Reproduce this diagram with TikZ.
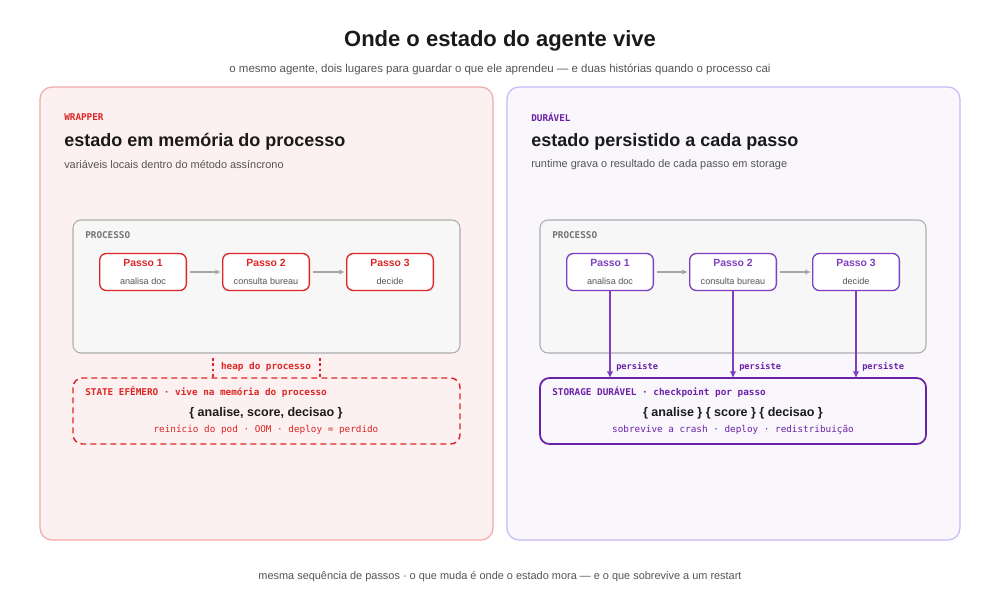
\documentclass[tikz,border=0pt]{standalone}
\usepackage{fontspec}
\usetikzlibrary{arrows.meta}
\setmainfont{Liberation Sans}
\newfontfamily\monof{DejaVu Sans Mono}
\definecolor{rd}{HTML}{DC2626}
\definecolor{pu}{HTML}{6B21A8}
\definecolor{pufr}{HTML}{7E3FC0}
\definecolor{pub}{HTML}{C8B8F8}
\definecolor{txt}{HTML}{1A1A1A}
\definecolor{gr}{HTML}{555555}
\begin{document}
\begin{tikzpicture}[x=0.75pt,y=-0.75pt,
  panel/.style={rounded corners=9pt,line width=0.9pt},
  proc/.style={rounded corners=6pt,draw=black!32,fill=black!3,line width=0.8pt},
  pstep/.style={rounded corners=5pt,fill=white,line width=1pt,minimum width=65pt,minimum height=27.75pt,align=center,inner sep=0pt},
  flow/.style={draw=black!35,line width=1pt,shorten <=2pt,shorten >=1pt,-{Latex[length=4pt,width=4pt]}},
  mono/.style={font=\monof\bfseries\fontsize{7}{8}\selectfont},
  tag/.style={mono,anchor=west,inner sep=0pt},
  headl/.style={font=\bfseries\fontsize{13.5}{16}\selectfont,text=txt,anchor=west,inner sep=0pt},
  subl/.style={font=\fontsize{8.2}{10}\selectfont,text=gr,anchor=west,inner sep=0pt}]
\useasboundingbox (0,0) rectangle (1000,600);
\fill[white] (0,0) rectangle (1000,600);
\node[font=\bfseries\fontsize{16.5}{20}\selectfont,text=txt] (title) at (500,41) {Onde o estado do agente vive};
\node[font=\fontsize{8.6}{10}\selectfont,text=gr] (sub) at (500,69) {o mesmo agente, dois lugares para guardar o que ele aprendeu — e duas histórias quando o processo cai};
% panels
\draw[panel,draw=rd!40,fill=rd!7] (40,87) rectangle (493,540);
\draw[panel,draw=pub,fill=pu!4] (507,87) rectangle (960,540);
\node[tag,text=rd] (lt) at (64,117) {WRAPPER};
\node[headl] (lh) at (64,142) {estado em memória do processo};
\node[subl] (ls) at (64,165) {variáveis locais dentro do método assíncrono};
\node[tag,text=pu] (rt) at (531,117) {DURÁVEL};
\node[headl] (rh) at (531,142) {estado persistido a cada passo};
\node[subl] (rs) at (531,165) {runtime grava o resultado de cada passo em storage};
% left process
\draw[proc] (73,220) rectangle (460,353);
\node[tag,text=black!55] (lp) at (85,235) {PROCESSO};
\foreach \n/\x/\s in {1/143/analisa doc,2/266/consulta bureau,3/390/decide}{
  \node[pstep,draw=rd] (l\n) at (\x,272) {{\bfseries\fontsize{7.8}{9}\selectfont\textcolor{rd}{Passo \n}}\\[1pt]{\fontsize{6.8}{8}\selectfont\textcolor{gr}{\s}}};
}
\draw[flow] (l1) -- (l2);
\draw[flow] (l2) -- (l3);
\coordinate (h1a) at (213,358); \coordinate (h1b) at (213,377);
\coordinate (h2a) at (320,358); \coordinate (h2b) at (320,377);
\draw[rd,dash pattern=on 2pt off 2pt,line width=0.8pt] (h1a) -- (h1b) (h2a) -- (h2b);
\node[mono,text=rd] (heap) at (266,367) {heap do processo};
\draw[rd,dash pattern=on 4.5pt off 3pt,line width=1.1pt,rounded corners=7pt] (73,378) rectangle (460,444);
\node[tag,text=rd] (st) at (85,392) {STATE EFÊMERO · vive na memória do processo};
\node[font=\bfseries\fontsize{9.4}{11}\selectfont,text=txt] (sv) at (266,413) {\{ analise, score, decisao \}};
\node[font=\monof\fontsize{7}{8}\selectfont,text=rd] (sl) at (266,430) {reinício do pod · OOM · deploy = perdido};
% right process
\draw[proc] (540,220) rectangle (926,353);
\node[tag,text=black!55] (rp) at (552,235) {PROCESSO};
\foreach \n/\x/\s in {1/610/analisa doc,2/733/consulta bureau,3/856/decide}{
  \node[pstep,draw=pufr] (r\n) at (\x,272) {{\bfseries\fontsize{7.8}{9}\selectfont\textcolor{pufr}{Passo \n}}\\[1pt]{\fontsize{6.8}{8}\selectfont\textcolor{gr}{\s}}};
}
\draw[flow] (r1) -- (r2);
\draw[flow] (r2) -- (r3);
\draw[pu,line width=1.3pt,rounded corners=7pt,fill=pu!4] (540,378) rectangle (926,444);
\coordinate (s1) at (610,378); \coordinate (s2) at (733,378); \coordinate (s3) at (856,378);
\foreach \n/\x in {1/610,2/733,3/856}{
  \draw[pufr,line width=1.1pt,-{Latex[length=5pt,width=5pt]}] (r\n.south) -- (s\n);
  \node[text=pu,anchor=west,inner sep=0pt,font=\monof\bfseries\fontsize{6.5}{8}\selectfont] (p\n) at (\x+6,367) {persiste};
}
\node[tag,text=pu] (dt) at (552,392) {STORAGE DURÁVEL · checkpoint por passo};
\node[font=\bfseries\fontsize{9.4}{11}\selectfont,text=txt] (dv) at (733,413) {\{ analise \} \{ score \} \{ decisao \}};
\node[font=\monof\fontsize{7}{8}\selectfont,text=pu] (dl) at (733,430) {sobrevive a crash · deploy · redistribuição};
\node[font=\fontsize{8.2}{10}\selectfont,text=gr] (foot) at (500,577) {mesma sequência de passos · o que muda é onde o estado mora — e o que sobrevive a um restart};
\end{tikzpicture}
\end{document}
